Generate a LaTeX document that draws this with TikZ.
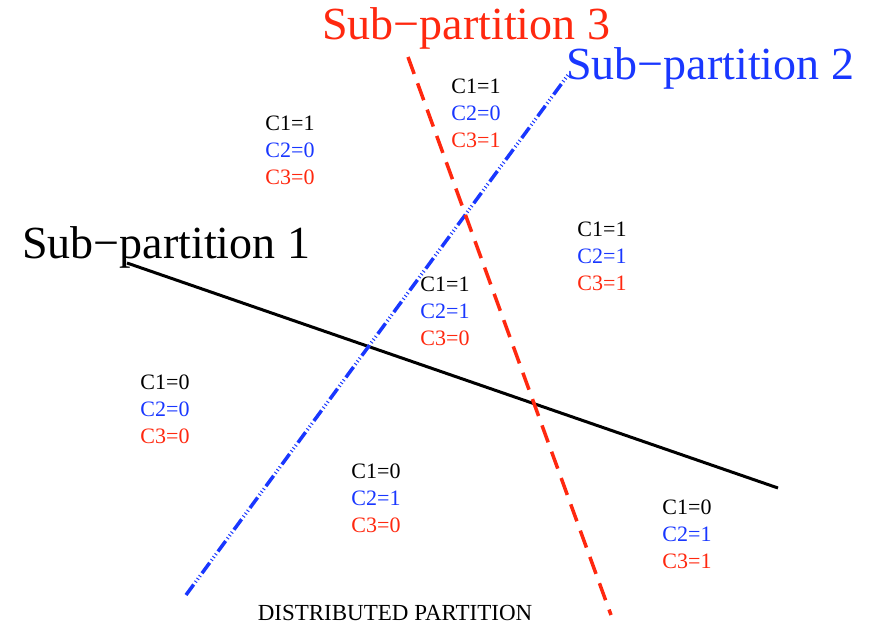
\documentclass[tikz,border=0pt]{standalone}
\usepackage{fontspec}
\setmainfont{Liberation Serif}
\usepackage{xcolor}
\definecolor{partred}{RGB}{255,40,15}
\definecolor{partblue}{RGB}{25,55,255}

% three class values of one region
\newcommand{\cellvals}[3]{#1\\\textcolor{partblue}{#2}\\\textcolor{partred}{#3}}

\begin{document}
\begin{tikzpicture}[x=1pt, y=-1pt,
    title/.style={font=\fontsize{46}{50}\selectfont, anchor=base west, inner sep=0pt},
    cell/.style={font=\fontsize{22}{27}\selectfont, align=center, inner sep=0pt},
    cut/.style={line width=3pt}
]
\useasboundingbox (0,0) rectangle (876,626);

% --- Titles of the cuts ---
\node[title]                  (sp1) at (22,258) {Sub−partition 1};
\node[title, text=partblue]   (sp2) at (566,80) {Sub−partition 2};
\node[title, text=partred]    (sp3) at (322,40) {Sub−partition 3};

% --- End points of the cuts ---
\coordinate (s1a) at (127,263);
\coordinate (s1b) at (778,488);
\coordinate (s2a) at (186,595);
\coordinate (s2b) at (568,75);
\coordinate (s3a) at (408,57);
\coordinate (s3b) at (611,615);

% --- Cuts ---
\draw[cut] (s1a) -- (s1b);
\draw[cut, partblue, line width=3.5pt,
      dash pattern=on 13pt off 3pt on 1pt off 2.5pt on 1pt off 2.5pt on 1pt off 3pt] (s2a) -- (s2b);
\draw[cut, partred, line width=3.5pt, dash pattern=on 18pt off 10pt] (s3a) -- (s3b);

% --- Regions ---
\node[cell] (r110) at (290,150) {\cellvals{C1=1}{C2=0}{C3=0}};
\node[cell] (r101) at (476,113) {\cellvals{C1=1}{C2=0}{C3=1}};
\node[cell] (r111) at (602,256) {\cellvals{C1=1}{C2=1}{C3=1}};
\node[cell] (r1b0) at (445,311) {\cellvals{C1=1}{C2=1}{C3=0}};
\node[cell] (r000) at (165,409) {\cellvals{C1=0}{C2=0}{C3=0}};
\node[cell] (r010) at (376,498) {\cellvals{C1=0}{C2=1}{C3=0}};
\node[cell] (r011) at (687,534) {\cellvals{C1=0}{C2=1}{C3=1}};

% --- Caption ---
\node[font=\fontsize{23}{26}\selectfont, inner sep=0pt] (cap) at (395,613) {DISTRIBUTED PARTITION};

\end{tikzpicture}
\end{document}
